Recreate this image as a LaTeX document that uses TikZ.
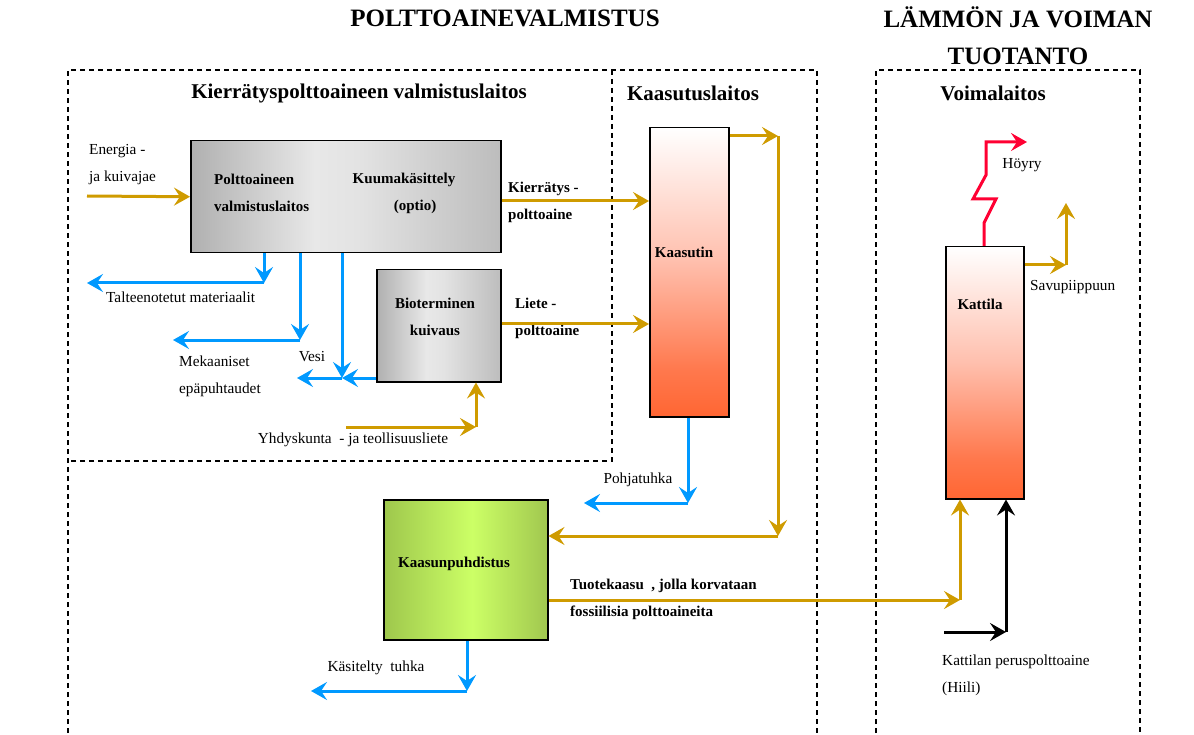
\documentclass[tikz,border=0pt]{standalone}
\usepackage{fontspec}
\setmainfont{Liberation Serif}
\usetikzlibrary{arrows.meta}
\definecolor{goldc}{RGB}{207,155,0}
\definecolor{bluec}{RGB}{0,153,255}
\definecolor{redc}{RGB}{255,0,51}
\definecolor{orc}{RGB}{255,102,51}
\pgfdeclarehorizontalshading{grayh}{100bp}{rgb(0bp)=(0.69,0.69,0.69); rgb(25bp)=(0.69,0.69,0.69); rgb(45bp)=(0.91,0.91,0.91); rgb(52bp)=(0.89,0.89,0.89); rgb(75bp)=(0.74,0.74,0.74); rgb(100bp)=(0.74,0.74,0.74)}
\pgfdeclarehorizontalshading{greenh}{100bp}{rgb(0bp)=(0.62,0.78,0.30); rgb(25bp)=(0.62,0.78,0.30); rgb(52bp)=(0.80,1.0,0.40); rgb(75bp)=(0.63,0.78,0.31); rgb(100bp)=(0.63,0.78,0.31)}
\pgfdeclareverticalshading{redv}{100bp}{rgb(0bp)=(1,0.40,0.20); rgb(25bp)=(1,0.40,0.20); rgb(33bp)=(1,0.47,0.30); rgb(52bp)=(1,0.75,0.68); rgb(75bp)=(1,1,1); rgb(100bp)=(1,1,1)}
\tikzset{
  tip/.style={-{Stealth[length=16pt,width=18pt,inset=6pt]}},
  goldline/.style={draw=goldc,line width=3pt},
  goldarr/.style={goldline,tip},
  blueline/.style={draw=bluec,line width=3pt},
  bluearr/.style={blueline,tip},
  blackarr/.style={draw=black,line width=3pt,tip},
  redarr/.style={draw=redc,line width=3pt,tip},
  frame/.style={draw=black,line width=1.5pt,dash pattern=on 5pt off 4pt},
  box/.style={draw=black,line width=1.5pt,anchor=north west,inner sep=0pt},
  graybox/.style={box,shading=grayh,shading angle=0},
  greenbox/.style={box,shading=greenh,shading angle=0},
  redbox/.style={box,shading=redv,shading angle=0},
  lbl/.style={font=\fontsize{15.3}{27}\selectfont,inner sep=0pt,align=left},
  blbl/.style={font=\bfseries\fontsize{15}{27}\selectfont,inner sep=0pt,align=left},
  head/.style={font=\bfseries\fontsize{21}{25}\selectfont,inner sep=0pt},
  title/.style={font=\bfseries\fontsize{25}{37}\selectfont,inner sep=0pt,align=center}
}
\begin{document}
\begin{tikzpicture}[x=1pt,y=-1pt]
\useasboundingbox (0,0) rectangle (1194,735);
% titles
\node[title] (t1) at (505,18) {POLTTOAINEVALMISTUS};
\node[title] (t2) at (1018,36) {LÄMMÖN JA VOIMAN\\TUOTANTO};
% frames
\draw[frame] (68,733) -- (68,70) -- (817,70) -- (817,733);
\draw[frame] (612,70) -- (612,461) -- (68,461);
\draw[frame] (876,733) -- (876,70) -- (1140,70) -- (1140,733);
\node[head] (h1) at (359,93) {Kierrätyspolttoaineen valmistuslaitos};
\node[head] (h2) at (693,93) {Kaasutuslaitos};
\node[head] (h3) at (993,93) {Voimalaitos};
% boxes
\node[graybox,minimum width=310pt,minimum height=112pt] (p1) at (190,140) {};
\node[graybox,minimum width=124pt,minimum height=112pt] (bio) at (376,269) {};
\node[redbox,minimum width=79pt,minimum height=289pt] (kt) at (649,127) {};
\node[greenbox,minimum width=164pt,minimum height=140pt] (kp) at (383,499) {};
\node[redbox,minimum width=78pt,minimum height=252pt] (ka) at (945,246) {};
% box texts
\node[blbl,anchor=west] (p1a) at (214,193) {Polttoaineen\\valmistuslaitos};
\node[blbl,align=center] (p1b) at (404,193) {Kuumakäsittely\\\hspace*{22pt}(optio)};
\node[blbl,align=center] (biot) at (435,317) {Bioterminen\\kuivaus};
\node[blbl] (ktt) at (684,252) {Kaasutin};
\node[blbl] (kpt) at (454,564) {Kaasunpuhdistus};
\node[blbl] (kat) at (980,304) {Kattila};
% labels
\node[lbl,anchor=west] (l1) at (89,165) {Energia -\\ja kuivajae};
\node[blbl,anchor=west] (l2) at (508,202) {Kierrätys -\\polttoaine};
\node[lbl,anchor=west] (l3) at (106,297) {Talteenotetut materiaalit};
\node[lbl,anchor=west] (l4) at (179,376) {Mekaaniset\\epäpuhtaudet};
\node[lbl] (l5) at (312,357) {Vesi};
\node[blbl,anchor=west] (l6) at (515,318) {Liete -\\polttoaine};
\node[lbl] (l7) at (353,440) {Yhdyskunta \ - ja teollisuusliete};
\node[lbl] (l8) at (638,480) {Pohjatuhka};
\node[lbl] (l9) at (376,668) {Käsitelty \ tuhka};
\node[blbl,anchor=west] (l10) at (570,599) {Tuotekaasu \ , jolla korvataan\\fossiilisia polttoaineita};
\node[lbl,anchor=west] (l11) at (942,675) {Kattilan peruspolttoaine\\(Hiili)};
\node[lbl] (l12) at (1022,165) {Höyry};
\node[lbl,anchor=west] (l13) at (1030,287) {Savupiippuun};
% coordinates
\coordinate (en) at (87,196);
\coordinate (b1) at (264,283); \coordinate (e1) at (87,283);
\coordinate (b2) at (300,340); \coordinate (e2) at (173,340);
\coordinate (b3) at (342,378); \coordinate (e3) at (297,378);
\coordinate (y0) at (346,427); \coordinate (y1) at (476,427);
\coordinate (g1) at (778,136); \coordinate (g2) at (778,536);
\coordinate (pb) at (688,503); \coordinate (pe) at (584,503);
\coordinate (kb) at (467,691); \coordinate (ke) at (311,691);
\coordinate (tk) at (960,600);
\coordinate (c0) at (944,632); \coordinate (c1) at (1006,632);
\coordinate (s1) at (1066,265); \coordinate (s2) at (1066,203);
\coordinate (r1) at (984,223); \coordinate (r2) at (996,199);
\coordinate (r3) at (973,199); \coordinate (r4) at (986,175);
\coordinate (r5) at (986,142); \coordinate (r6) at (1027,142);
% gold connectors
\draw[goldarr] (en) -- (p1.west);
\draw[goldarr] (p1.east |- 0,201) -- (kt.west |- 0,201);
\draw[goldarr] (bio.east |- 0,324) -- (kt.west |- 0,324);
\draw[goldarr] (y0) -- (y1);
\draw[goldarr] (y1) -- (bio.south -| y1);
\draw[goldarr] (kt.east |- g1) -- (g1);
\draw[goldarr] (g1) -- (g2);
\draw[goldarr] (g2) -- (kp.east |- g2);
\draw[goldarr] (kp.east |- tk) -- (tk);
\draw[goldarr] (tk) -- (ka.south -| tk);
\draw[goldarr] (ka.east |- s1) -- (s1);
\draw[goldarr] (s1) -- (s2);
% blue connectors
\draw[bluearr] (p1.south -| b1) -- (b1);
\draw[bluearr] (b1) -- (e1);
\draw[bluearr] (p1.south -| b2) -- (b2);
\draw[bluearr] (b2) -- (e2);
\draw[bluearr] (p1.south -| b3) -- (b3);
\draw[bluearr] (bio.west |- b3) -- (b3);
\draw[bluearr] (b3) -- (e3);
\draw[bluearr] (kt.south -| pb) -- (pb);
\draw[bluearr] (pb) -- (pe);
\draw[bluearr] (kp.south -| kb) -- (kb);
\draw[bluearr] (kb) -- (ke);
% black
\draw[blackarr] (c0) -- (c1);
\draw[blackarr] (c1) -- (ka.south -| c1);
% red steam
\draw[redarr] (ka.north -| r1) -- (r1) -- (r2) -- (r3) -- (r4) -- (r5) -- (r6);
\end{tikzpicture}
\end{document}
